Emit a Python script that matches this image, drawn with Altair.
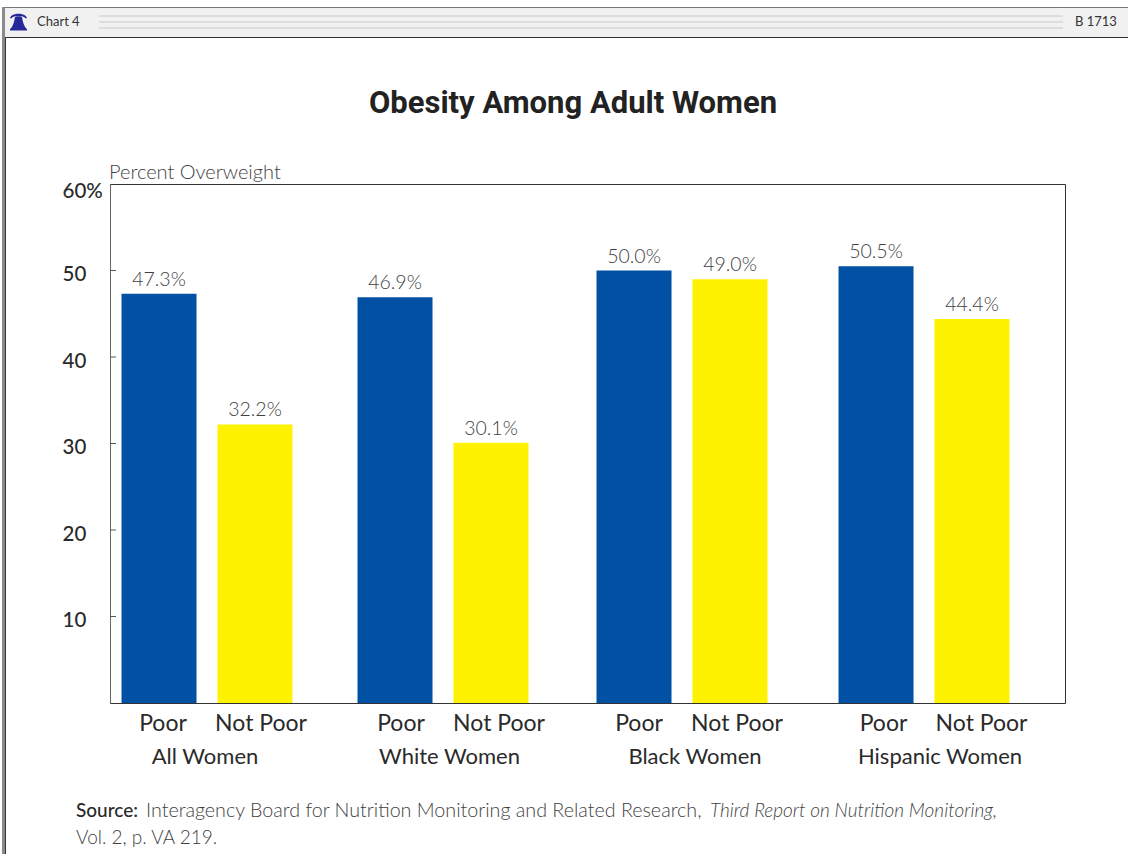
import altair as alt
import pandas as pd

# Percent of adult women overweight, by group and income status
groups = ["All Women", "White Women", "Black Women", "Hispanic Women"]
statuses = ["Poor", "Not Poor"]
poor_values = [47.3, 46.9, 50.0, 50.5]
not_poor_values = [32.2, 30.1, 49.0, 44.4]
y_ticks = [10, 20, 30, 40, 50, 60]

# Horizontal layout of each cluster on the page (unevenly spaced by design)
bar_centers = [207, 443, 682, 924]
status_label_centers = [212, 450, 688, 932.5]
group_label_centers = [205, 449.5, 695, 940]

BLUE = "#0050a4"
YELLOW = "#fff200"
INK = "#2a2a2a"
SOFT = "#3f3f3f"
BODY_FONT = "Lato"
LEFT, TOP = 110, 184
PLOT_W, PLOT_H = 955, 519

rows = []
for g, p, n in zip(groups, poor_values, not_poor_values):
    rows.append({"group": g, "status": "Poor", "value": p, "label": f"{p:.1f}%"})
    rows.append({"group": g, "status": "Not Poor", "value": n, "label": f"{n:.1f}%"})
df = pd.DataFrame(rows)
group_df = pd.DataFrame({"group": groups})
tick_df = pd.DataFrame({"tick": y_ticks})
anchor_df = group_df.head(1)

y_scale = alt.Scale(domain=[0, 60], range=[PLOT_H, 0], nice=False)


def cluster_x(group, center, half=120):
    """One band per layer, centred on the cluster's page position."""
    return alt.X("group:N", axis=None, scale=alt.Scale(
        domain=[group], range=[center - LEFT - half, center - LEFT + half],
        paddingInner=0, paddingOuter=0))


def pair_offset(a, b):
    return alt.XOffset("status:N", sort=statuses, scale=alt.Scale(
        type="point", domain=statuses, range=[a, b], padding=0))


bar_layers, value_layers, status_layers = [], [], []
for i, g in enumerate(groups):
    part = df[df.group == g]
    bar_layers.append(alt.Chart(part).mark_bar(size=75).encode(
        x=cluster_x(g, bar_centers[i]),
        xOffset=alt.XOffset("status:N", sort=statuses, scale=alt.Scale(
            domain=statuses, range=[0, 240], paddingInner=0.219, paddingOuter=0.36)),
        y=alt.Y("value:Q", scale=y_scale, title=None),
        color=alt.Color("status:N", legend=None,
                        scale=alt.Scale(domain=statuses, range=[BLUE, YELLOW])),
    ))
    value_layers.append(alt.Chart(part).mark_text(
        baseline="alphabetic", dy=-8, font=BODY_FONT, fontWeight=300, fontSize=19.5, color=SOFT,
    ).encode(
        x=cluster_x(g, bar_centers[i]),
        xOffset=pair_offset(72, 168),
        y=alt.Y("value:Q", scale=y_scale, title=None),
        text="label:N",
    ))
    status_layers.append(alt.Chart(part).mark_text(
        baseline="alphabetic", font=BODY_FONT, fontSize=23, color=INK,
    ).encode(
        x=cluster_x(g, status_label_centers[i]),
        xOffset=pair_offset(71, 169),
        y=alt.value(731 - TOP),
        text="status:N",
    ))

group_layers = [
    alt.Chart(group_df[group_df.group == g]).mark_text(
        baseline="alphabetic", font=BODY_FONT, fontSize=22, color=INK,
    ).encode(x=cluster_x(g, c), y=alt.value(764 - TOP), text="group:N")
    for g, c in zip(groups, group_label_centers)
]

# Value axis: labels flush left in the margin, short ticks drawn inside the frame
inner_ticks = alt.Chart(tick_df[tick_df.tick < 60]).mark_rule(color="#555555", strokeWidth=1).encode(
    x=alt.value(0), x2=alt.value(6),
    y=alt.Y("tick:Q", scale=y_scale, title=None, axis=alt.Axis(
        values=y_ticks, ticks=False, domain=False, grid=False,
        labelExpr="datum.value == 60 ? '60%' : datum.label",
        labelAlign="left", labelPadding=48, labelFont=BODY_FONT, labelFontSize=20.5,
        labelFontWeight=500, labelColor=INK, labelBaseline="middle",
        labelOffset={"condition": {"test": "datum.value == 60", "value": 7}, "value": 4},
    )),
)


def note(text, x, y, size=19, weight=300, style="normal", color=SOFT, font=BODY_FONT, align="left"):
    """Free-standing text at a page position."""
    return alt.Chart(anchor_df).mark_text(
        text=text, align=align, baseline="alphabetic", font=font, fontSize=size,
        fontWeight=weight, fontStyle=style, color=color,
    ).encode(x=alt.value(x - LEFT), y=alt.value(y - TOP))


def band(x, x2, y, y2, color):
    """Solid strip given in page coordinates."""
    return alt.Chart(anchor_df).mark_rect(color=color).encode(
        x=alt.value(x - LEFT), x2=alt.value(x2 - LEFT),
        y=alt.value(y - TOP), y2=alt.value(y2 - TOP))


# Page furniture: header strip with its stripes, and the left margin rule
frame = [
    band(2, 1128, 7, 37, "#f1f1f1"),
    band(2, 1128, 7, 8, "#777777"),
    band(5, 1128, 37, 38, "#333333"),
    band(2, 5, 7, 854, "#8a8a8a"),
    band(5, 6, 37, 854, "#333333"),
    band(99, 1063, 15, 17, "#dddddd"),
    band(99, 1063, 21, 23, "#dddddd"),
    band(99, 1063, 27, 29, "#dddddd"),
    band(LEFT, LEFT + 1, TOP, TOP + PLOT_H, "#666666"),
]

bell = alt.Chart(anchor_df).mark_point(
    filled=True, opacity=1, color="#26289a", size=290,
    shape="M-1,-0.45 C-0.85,-1.15 0.85,-1.15 1,-0.45 L0.82,-0.45 C0.6,-0.8 -0.6,-0.8 -0.82,-0.45 Z "
          "M-0.42,-0.55 C-0.2,-0.72 0.2,-0.72 0.42,-0.55 C0.5,0 0.65,0.55 1,0.85 L1,1 L-1,1 L-1,0.85 "
          "C-0.65,0.55 -0.5,0 -0.42,-0.55 Z",
).encode(x=alt.value(18.5 - LEFT), y=alt.value(22 - TOP))

notes = [
    note("Obesity Among Adult Women", 573, 113, size=31, weight="bold", color="#222222",
         font="Roboto", align="center"),
    note("Chart 4", 37, 26, size=13, weight=400, color="#333333"),
    note("B 1713", 1075, 26, size=13, weight=400, color="#333333"),
    note("Percent Overweight", 109, 179, size=20),
    note("Source:", 76, 817, size=19, weight=500, color=INK),
    note("Interagency Board for Nutrition Monitoring and Related Research,", 146, 817, size=19.7),
    note("Third Report on Nutrition Monitoring,", 710, 817, size=19, style="italic"),
    note("Vol. 2, p. VA 219.", 76, 844, size=19),
]

layers = frame + [bell] + bar_layers + [inner_ticks] + value_layers + status_layers + group_layers + notes

chart = alt.layer(*layers).resolve_scale(x="independent", xOffset="independent").properties(
    width=PLOT_W,
    height=PLOT_H,
    padding={"left": LEFT, "top": TOP, "right": 1128 - LEFT - PLOT_W, "bottom": 854 - TOP - PLOT_H},
    autosize=alt.AutoSizeParams(type="none"),
    background="white",
).configure_view(stroke="#333333", strokeWidth=1)

chart.save("out.html", embed_options={"renderer": "svg", "actions": False})
